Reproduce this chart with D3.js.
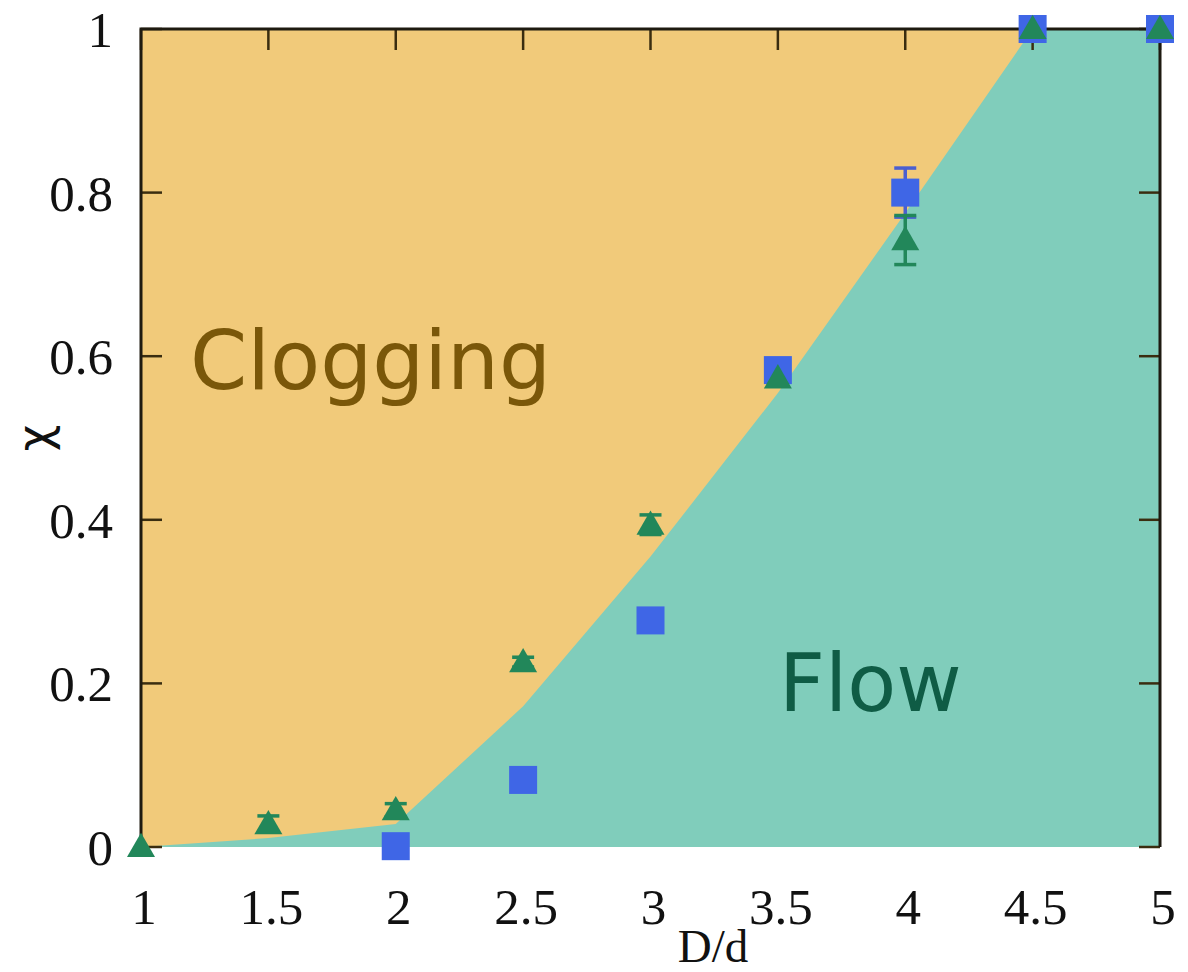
<!DOCTYPE html>
<html>
<head>
<meta charset="utf-8">
<script src="https://cdn.jsdelivr.net/npm/d3@7"></script>
<style>
  body { margin: 0; background: #fff; }
  svg { display: block; }
</style>
</head>
<body>
<svg id="chart"></svg>
<script>
var width = 1188, height = 972;
var svg = d3.select("#chart").attr("width", width).attr("height", height);

// boundary between clogging / flow regions
var boundaryX = [1, 1.5, 2, 2.5, 3, 3.5, 4, 4.5, 5];
var boundaryY = [0, 0.011, 0.028, 0.172, 0.355, 0.555, 0.775, 1, 1];

// green triangles (with error)
var triX = [1, 1.5, 2, 2.5, 3, 3.5, 4, 4.5, 5];
var triY = [0, 0.028, 0.045, 0.226, 0.394, 0.573, 0.742, 1, 1];
var triErr = [0, 0.01, 0.008, 0.006, 0.012, 0.006, 0.03, 0.01, 0];

// blue squares (with error)
var sqX = [2, 2.5, 3, 3.5, 4, 4.5, 5];
var sqY = [0.001, 0.082, 0.277, 0.583, 0.8, 1, 1];
var sqErr = [0, 0, 0, 0, 0.03, 0, 0];

var xTicks = [1, 1.5, 2, 2.5, 3, 3.5, 4, 4.5, 5];
var yTicks = [0, 0.2, 0.4, 0.6, 0.8, 1];

var pL = 141, pR = 1160, pT = 29, pB = 847;
var x = d3.scaleLinear().domain([1, 5]).range([pL, pR]);
var y = d3.scaleLinear().domain([0, 1]).range([pB, pT]);

var yellow = "#f1ca7a", teal = "#80cdbb", blue = "#3f66e6", green = "#22875a";

// background regions
svg.append("rect")
  .attr("x", pL).attr("y", pT)
  .attr("width", pR - pL).attr("height", pB - pT)
  .attr("fill", yellow);

var bnd = boundaryX.map(function (d, i) { return [d, boundaryY[i]]; });
var area = d3.area()
  .x(function (d) { return x(d[0]); })
  .y0(y(0))
  .y1(function (d) { return y(d[1]); });
svg.append("path").attr("d", area(bnd)).attr("fill", teal);

// region labels
svg.append("text").attr("x", 190).attr("y", 389)
  .attr("font-family", "DejaVu Sans").attr("font-size", 82)
  .attr("fill", "#7a5709").text("Clogging");
svg.append("text").attr("x", 779).attr("y", 711)
  .attr("font-family", "DejaVu Sans").attr("font-size", 80)
  .attr("fill", "#0f5c45").text("Flow");

// ticks (inside) on left, right, top
var tickCol = "#3a2d10", tl = 21;
var ticks = svg.append("g").attr("stroke", tickCol).attr("stroke-width", 2.5);
yTicks.forEach(function (t) {
  ticks.append("line").attr("x1", pL).attr("x2", pL + tl).attr("y1", y(t)).attr("y2", y(t));
  ticks.append("line").attr("x1", pR).attr("x2", pR - tl).attr("y1", y(t)).attr("y2", y(t));
});
xTicks.forEach(function (t) {
  ticks.append("line").attr("x1", x(t)).attr("x2", x(t)).attr("y1", pT).attr("y2", pT + tl);
});

// frame: top, left, right
svg.append("path")
  .attr("d", "M" + pL + "," + pB + "V" + pT + "H" + pR + "V" + pB)
  .attr("fill", "none").attr("stroke", "#1e1a10").attr("stroke-width", 3);

// tick labels
svg.append("g").selectAll("text").data(yTicks).enter().append("text")
  .attr("x", 113).attr("y", function (d) { return y(d) + 18; })
  .attr("text-anchor", "end")
  .attr("font-family", "Liberation Serif").attr("font-size", 51)
  .attr("fill", "#111")
  .text(function (d) { return d3.format("")(d); });

svg.append("g").selectAll("text").data(xTicks).enter().append("text")
  .attr("x", function (d) { return x(d) + 3; }).attr("y", 924)
  .attr("text-anchor", "middle")
  .attr("font-family", "Liberation Serif").attr("font-size", 51)
  .attr("fill", "#111")
  .text(function (d) { return d3.format("")(d); });

// axis titles
svg.append("text").attr("x", 713).attr("y", 962)
  .attr("text-anchor", "middle")
  .attr("font-family", "Liberation Serif").attr("font-size", 47)
  .attr("fill", "#111").text("D/d");
svg.append("text")
  .attr("transform", "translate(50,438) rotate(-90)")
  .attr("text-anchor", "middle")
  .attr("font-family", "DejaVu Sans").attr("font-size", 46)
  .attr("fill", "#111").text("χ");

// error bars
function errBars(xs, ys, es, col) {
  var g = svg.append("g").attr("stroke", col).attr("stroke-width", 3.5);
  xs.forEach(function (d, i) {
    if (!es[i]) return;
    var cx = x(d), y1 = y(ys[i] + es[i]), y2 = y(ys[i] - es[i]);
    g.append("line").attr("x1", cx).attr("x2", cx).attr("y1", y1).attr("y2", y2);
    g.append("line").attr("x1", cx - 11).attr("x2", cx + 11).attr("y1", y1).attr("y2", y1);
    g.append("line").attr("x1", cx - 11).attr("x2", cx + 11).attr("y1", y2).attr("y2", y2);
  });
}
errBars(sqX, sqY, sqErr, "#4a5fd0");
errBars(triX, triY, triErr, green);

// blue squares
svg.append("g").selectAll("rect").data(sqX).enter().append("rect")
  .attr("x", function (d) { return x(d) - 14; })
  .attr("y", function (d, i) { return y(sqY[i]) - 14; })
  .attr("width", 28).attr("height", 28)
  .attr("fill", blue);

// green triangles
var tri = d3.symbol().type(d3.symbolTriangle).size(340);
svg.append("g").selectAll("path").data(triX).enter().append("path")
  .attr("d", tri)
  .attr("transform", function (d, i) { return "translate(" + x(d) + "," + (y(triY[i]) + 2) + ")"; })
  .attr("fill", green);
</script>
</body>
</html>
